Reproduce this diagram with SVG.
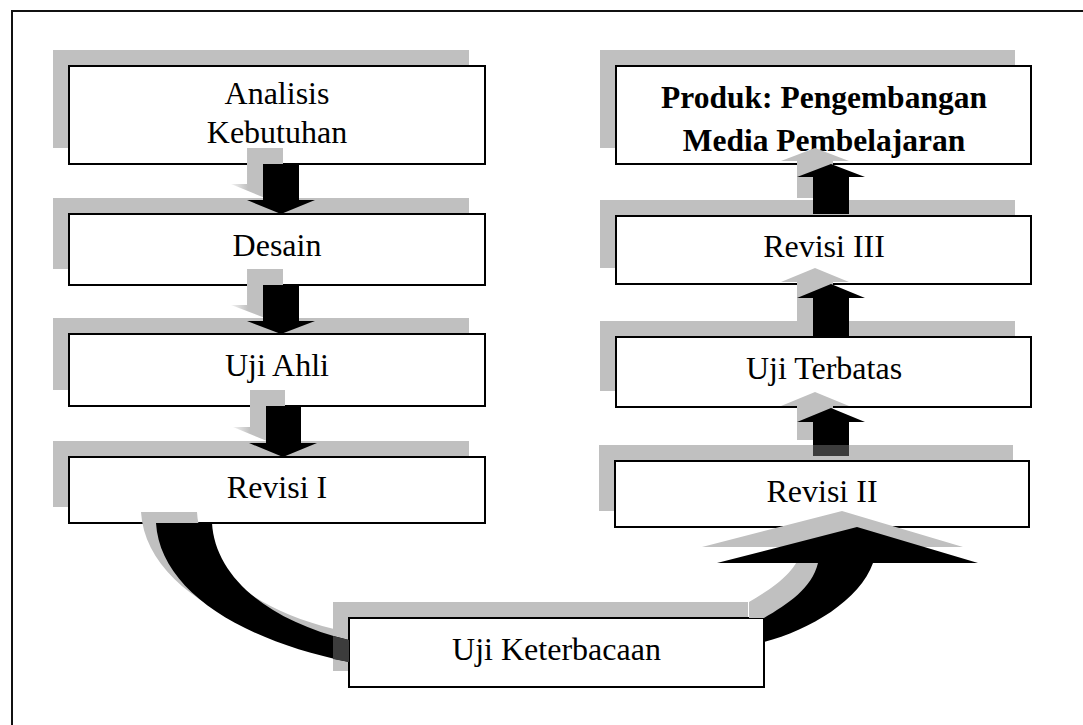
<svg xmlns="http://www.w3.org/2000/svg" width="1083" height="725" viewBox="0 0 1083 725">
<style>
.frame{fill:none;stroke:#111;stroke-width:2}
.shadow{fill:#c0c0c0}
.box{fill:#fff;stroke:#000;stroke-width:2}
.lbl{font-family:"Liberation Serif","Times New Roman",serif;font-size:32px;fill:#000;text-anchor:middle}
.bold{font-weight:bold;font-size:31.5px}
.arrow{fill:#000}
.ashadow{fill:#c0c0c0}
.fade{fill:url(#fadeL)}
.dark{fill:#3c3c3c}
</style>
<defs>
<linearGradient id="fadeL" x1="0" y1="0" x2="1" y2="0">
<stop offset="0" stop-color="#f2f2f2"/>
<stop offset="0.25" stop-color="#c0c0c0"/>
<stop offset="1" stop-color="#c0c0c0"/>
</linearGradient>
<clipPath id="noKet">
<path clip-rule="evenodd" d="M0 0H1083V725H0Z M349 618H764V687H349Z"/>
</clipPath>
</defs>
<rect class="frame" x="12" y="11" width="1100" height="800"/>

<g id="node-analisis">
<rect class="shadow" x="53" y="50" width="416" height="98"/>
<rect class="box" x="69" y="66" width="416" height="98"/>
<text class="lbl" x="277" y="104">Analisis</text>
<text class="lbl" x="277" y="143">Kebutuhan</text>
</g>
<g id="node-desain">
<rect class="shadow" x="53" y="198" width="416" height="71"/>
<rect class="box" x="69" y="214" width="416" height="71"/>
<text class="lbl" x="277" y="256">Desain</text>
</g>
<g id="node-uji-ahli">
<rect class="shadow" x="53" y="318" width="416" height="72"/>
<rect class="box" x="69" y="334" width="416" height="72"/>
<text class="lbl" x="277" y="376">Uji Ahli</text>
</g>
<g id="node-revisi-1">
<rect class="shadow" x="53" y="441" width="416" height="66"/>
<rect class="box" x="69" y="457" width="416" height="66"/>
<text class="lbl" x="277" y="498">Revisi I</text>
</g>
<g id="node-produk">
<rect class="shadow" x="600" y="50" width="415" height="98"/>
<rect class="box" x="616" y="66" width="415" height="98"/>
<text class="lbl bold" x="824" y="108">Produk: Pengembangan</text>
<text class="lbl bold" x="824" y="151">Media Pembelajaran</text>
</g>
<g id="node-revisi-3">
<rect class="shadow" x="600" y="200" width="415" height="68"/>
<rect class="box" x="616" y="216" width="415" height="68"/>
<text class="lbl" x="824" y="257">Revisi III</text>
</g>
<g id="node-uji-terbatas">
<rect class="shadow" x="600" y="321" width="415" height="70"/>
<rect class="box" x="616" y="337" width="415" height="70"/>
<text class="lbl" x="824" y="379">Uji Terbatas</text>
</g>
<g id="node-revisi-2">
<rect class="shadow" x="599" y="445" width="414" height="66"/>
<rect class="box" x="615" y="461" width="414" height="66"/>
<text class="lbl" x="822" y="502">Revisi II</text>
</g>
<g id="node-uji-keterbacaan">
<rect class="shadow" x="333" y="602" width="415" height="69"/>
<rect class="box" x="349" y="618" width="415" height="69"/>
<text class="lbl" x="556.5" y="660">Uji Keterbacaan</text>
</g>

<g id="connectors">
<path class="fade" d="M247,148 H283 V184 H299 L265,198 L231,184 H247 Z"/>
<path class="fade" d="M247,269 H283 V305 H299 L265,318 L231,305 H247 Z"/>
<path class="fade" d="M250,390 H285 V427 H301 L267,441 L233,427 H250 Z"/>
<path class="arrow" d="M263,164 H299 V200 H315 L281,214 L247,200 H263 Z"/>
<path class="arrow" d="M263,285 H299 V321 H315 L281,334 L247,321 H263 Z"/>
<path class="arrow" d="M266,406 H301 V443 H317 L283,457 L249,443 H266 Z"/>
<path class="ashadow" d="M797,198 V161 H781 L815,148 L849,161 H833 V198 Z"/>
<path class="ashadow" d="M797,321 V282 H781 L815,268 L849,282 H833 V321 Z"/>
<path class="ashadow" d="M797,440 V406 H781 L815,392 L849,406 H833 V440 Z"/>
<path class="arrow" d="M813,214 V177 H797 L831,164 L865,177 H849 V214 Z"/>
<path class="arrow" d="M813,337 V298 H797 L831,284 L865,298 H849 V337 Z"/>
<path class="arrow" d="M813,456 V422 H797 L831,408 L865,422 H849 V456 Z"/>
<rect class="dark" x="813" y="445" width="36" height="11"/>
<path class="ashadow" transform="translate(-15,-11)" d="M156,523 H212 C215,575 265,620 349,640 V662 C240,640 160,590 156,523 Z"/>
<path class="arrow" d="M156,523 H212 C215,575 265,620 349,640 V662 C240,640 160,590 156,523 Z"/>
<path class="dark" d="M333,636 L349,640 V662 L333,659 Z"/>
<g clip-path="url(#noKet)">
<path class="ashadow" transform="translate(-15,-16)" d="M764,618 C788,604 812,588 818,563 H717 L857,527 L978,563 H873 C860,600 810,630 764,642 Z"/>
</g>
<path class="arrow" d="M764,618 C788,604 812,588 818,563 H717 L857,527 L978,563 H873 C860,600 810,630 764,642 Z"/>
</g>
</svg>
